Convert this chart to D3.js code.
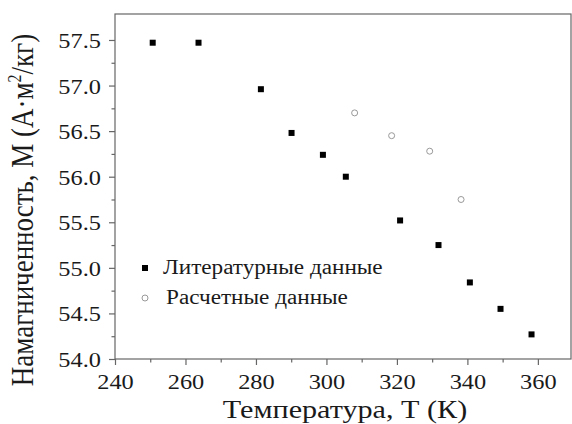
<!DOCTYPE html>
<html>
<head>
<meta charset="utf-8">
<script src="https://cdn.jsdelivr.net/npm/d3@7/dist/d3.min.js"></script>
<style>
  html, body { margin: 0; padding: 0; background: #fff; }
  svg { display: block; }
  text { font-family: "Liberation Serif", "Times New Roman", serif; fill: #1a1a1a; }
</style>
</head>
<body>
<svg id="chart" width="572" height="424"></svg>
<script>
// Literature data: temperature (K) and magnetization (A·m²/kg)
const litT = [250.7, 263.7, 281.4, 290.1, 299.0, 305.5, 320.9, 331.8, 340.7, 349.4, 358.2];
const litM = [57.47, 57.47, 56.96, 56.48, 56.24, 56.00, 55.52, 55.25, 54.84, 54.55, 54.27];

// Calculated data
const calcT = [308.0, 318.5, 329.3, 338.2];
const calcM = [56.70, 56.45, 56.28, 55.75];

// Axis ticks
const xTicks = [240, 260, 280, 300, 320, 340, 360];
const xMinor = [250, 270, 290, 310, 330, 350];
const yTicks = [54.0, 54.5, 55.0, 55.5, 56.0, 56.5, 57.0, 57.5];
const yMinor = [54.25, 54.75, 55.25, 55.75, 56.25, 56.75, 57.25];

const legendLabels = ["Литературные данные", "Расчетные данные"];
const xTitle = "Температура, Т (К)";

const svg = d3.select("#chart");
const m = { left: 115, right: 571, top: 14, bottom: 359 };
const stretch = 1.16; // horizontal widening of the serif lettering

const x = d3.scaleLinear().domain([240, 369.4]).range([m.left, m.right]);
const y = d3.scaleLinear().domain([54, 57.785]).range([m.bottom, m.top]);

const axisColor = "#666";

// Frame
svg.append("rect")
  .attr("x", m.left).attr("y", m.top)
  .attr("width", m.right - m.left).attr("height", m.bottom - m.top)
  .attr("fill", "none").attr("stroke", axisColor).attr("stroke-width", 1.2);

function styleAxis(g) {
  g.select(".domain").remove();
  g.selectAll(".tick line").attr("stroke", axisColor).attr("stroke-width", 1.2);
  g.selectAll(".tick text").attr("font-family", null).attr("fill", "#1a1a1a");
}

// X axis: major and minor ticks
const gx = svg.append("g").attr("transform", `translate(0,${m.bottom})`)
  .call(d3.axisBottom(x).tickValues(xTicks).tickSize(6).tickPadding(4).tickFormat(d3.format("d")))
  .attr("font-size", 21);
styleAxis(gx);
gx.selectAll(".tick text").attr("dy", null).attr("y", 30)
  .attr("transform", `scale(${stretch},1)`);

const gxm = svg.append("g").attr("transform", `translate(0,${m.bottom})`)
  .call(d3.axisBottom(x).tickValues(xMinor).tickSize(3.5).tickFormat(""));
styleAxis(gxm);

// Y axis: major and minor ticks
const gy = svg.append("g").attr("transform", `translate(${m.left},0)`)
  .call(d3.axisLeft(y).tickValues(yTicks).tickSize(6).tickFormat(d3.format(".1f")))
  .attr("font-size", 21);
styleAxis(gy);
gy.selectAll(".tick text").attr("dy", null).attr("x", 0).attr("y", 7.5)
  .attr("transform", `translate(-14,0) scale(${stretch},1)`);

const gym = svg.append("g").attr("transform", `translate(${m.left},0)`)
  .call(d3.axisLeft(y).tickValues(yMinor).tickSize(3.5).tickFormat(""));
styleAxis(gym);

// Stretched text helper
function label(g, px, py, str, size, anchor) {
  return g.append("text")
    .attr("transform", `translate(${px},${py}) scale(${stretch},1)`)
    .attr("text-anchor", anchor)
    .attr("font-size", size)
    .text(str);
}

// Axis titles
label(svg, 345, 418, xTitle, 26, "middle");

const yt = svg.append("text")
  .attr("transform", `translate(33,210) scale(${stretch},1) rotate(-90)`)
  .attr("text-anchor", "middle")
  .attr("font-size", 27);
yt.append("tspan").text("Намагниченность, М (А·м");
yt.append("tspan").attr("font-size", 16).attr("dy", -10).text("2");
yt.append("tspan").attr("dy", 10).text("/кг)");

// Literature points: filled squares
const litData = litT.map((t, i) => ({ t, m: litM[i] }));
svg.append("g").selectAll("rect").data(litData).join("rect")
  .attr("x", d => x(d.t) - 3).attr("y", d => y(d.m) - 3)
  .attr("width", 6).attr("height", 6)
  .attr("fill", "#000");

// Calculated points: hollow circles
const calcData = calcT.map((t, i) => ({ t, m: calcM[i] }));
svg.append("g").selectAll("circle").data(calcData).join("circle")
  .attr("cx", d => x(d.t)).attr("cy", d => y(d.m)).attr("r", 3)
  .attr("fill", "none").attr("stroke", "#999").attr("stroke-width", 1);

// Legend
const lg = svg.append("g");
lg.append("rect").attr("x", 142).attr("y", 265).attr("width", 6).attr("height", 6).attr("fill", "#000");
label(lg, 163, 274, legendLabels[0], 20, "start");
lg.append("circle").attr("cx", 145).attr("cy", 298).attr("r", 3)
  .attr("fill", "none").attr("stroke", "#999").attr("stroke-width", 1);
label(lg, 166, 304, legendLabels[1], 20, "start");
</script>
</body>
</html>
